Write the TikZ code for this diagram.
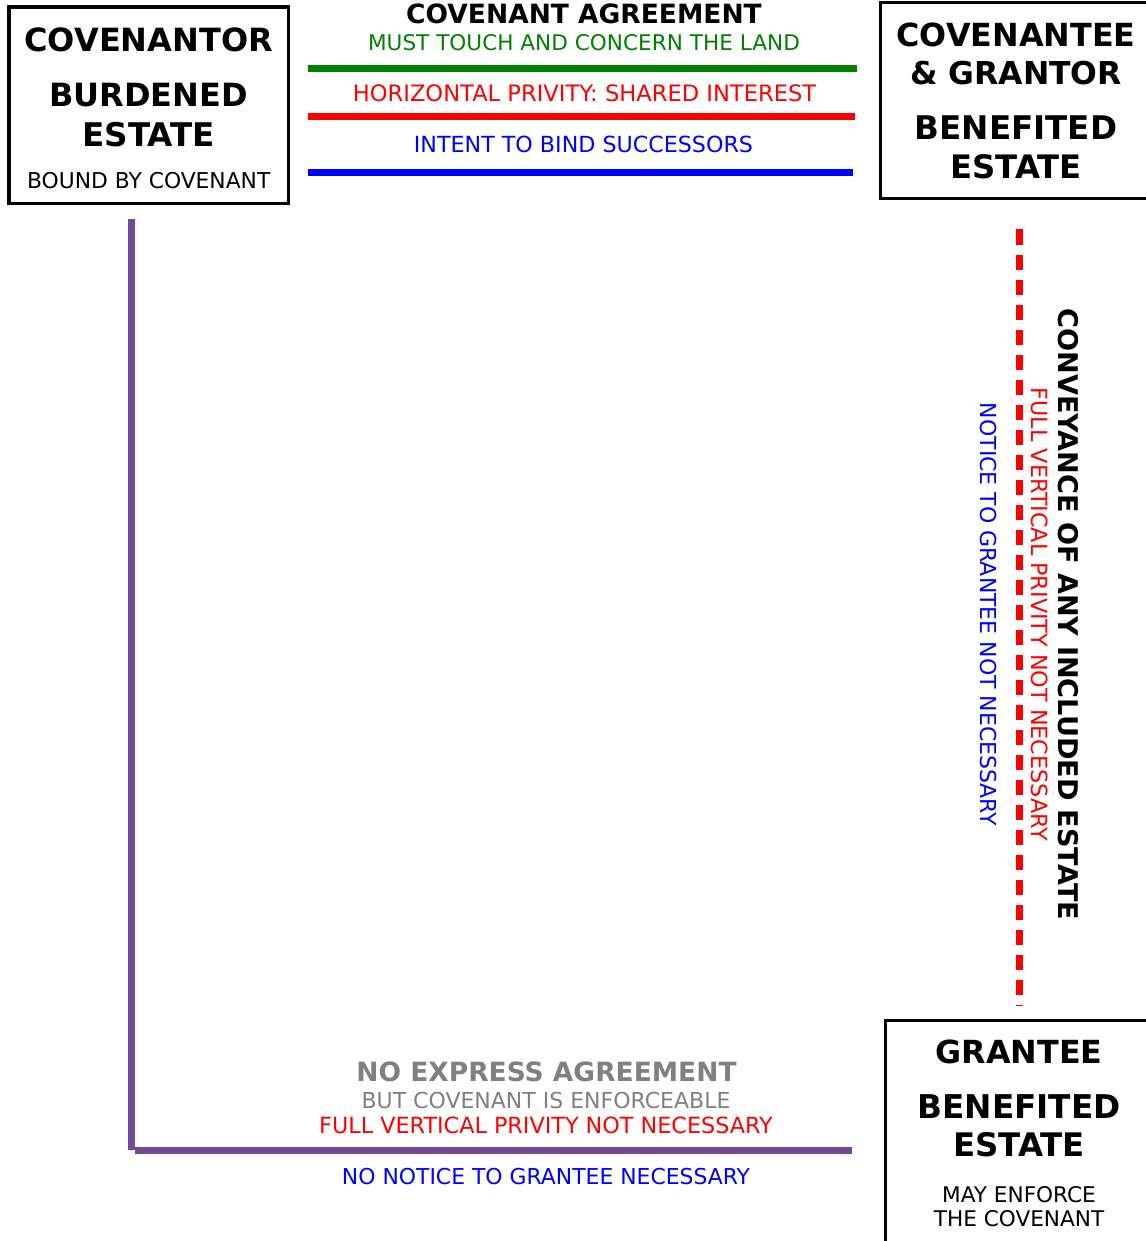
\documentclass[tikz,border=0pt]{standalone}
\usepackage{fontspec}
\setmainfont{DejaVu Sans}
\definecolor{landgreen}{RGB}{0,128,0}
\definecolor{estatepurple}{RGB}{113,74,154}
\definecolor{notegray}{RGB}{128,128,128}
\begin{document}
\begin{tikzpicture}[
    x=1pt, y=-1pt, % pixel grid, y grows downwards
    estatebox/.style={rectangle, draw=black, line width=3.3pt, inner sep=0pt},
    bigtext/.style={font=\fontsize{#1}{36}\selectfont\bfseries, inner sep=0pt, anchor=base},
    bigtext/.default=31.5,
    headtext/.style={font=\fontsize{#1}{30}\selectfont\bfseries, inner sep=0pt, anchor=base},
    headtext/.default=26.5,
    smalltext/.style={font=\fontsize{#1}{25}\selectfont, inner sep=0pt, anchor=base},
    smalltext/.default=21.6,
    rule/.style={line width=7pt},
  ]
    \useasboundingbox (0,0) rectangle (1145,1241);

    % Covenantor, top left
    \node[estatebox, minimum width=279.3pt, minimum height=196.5pt] (burden) at (148.7,105.25) {};
    \node[bigtext=32] (burdenName) at (148.7,52) {COVENANTOR};
    \node[bigtext=32] (burdenEstate) at (148.7,107) {BURDENED};
    \node[bigtext=32.6] (burdenEstateB) at (148.7,146.5) {ESTATE};
    \node[smalltext=21.8] (burdenNote) at (148.7,189) {BOUND BY COVENANT};

    % Covenantee, top right
    \node[estatebox, minimum width=271pt, minimum height=195.8pt] (benefit) at (1016,100.6) {};
    \node[bigtext=31.8] (benefitName) at (1016,47) {COVENANTEE};
    \node[bigtext] (benefitNameB) at (1016,85) {\& GRANTOR};
    \node[bigtext=32.6] (benefitEstate) at (1016,140) {BENEFITED};
    \node[bigtext=32.3] (benefitEstateB) at (1016,178.5) {ESTATE};

    % Grantee, bottom right
    \node[estatebox, minimum width=267pt, minimum height=241.5pt] (grantee) at (1019,1141.25) {};
    \node[bigtext=31.8] (granteeName) at (1019,1063.5) {GRANTEE};
    \node[bigtext=32.7] (granteeEstate) at (1019,1118.5) {BENEFITED};
    \node[bigtext=32.4] (granteeEstateB) at (1019,1156) {ESTATE};
    \node[smalltext] (granteeNote) at (1019,1202.5) {MAY ENFORCE};
    \node[smalltext] (granteeNoteB) at (1019,1226.5) {THE COVENANT};

    % Covenant agreement, between the two top boxes
    \node[headtext] (agree) at (584,24) {COVENANT AGREEMENT};
    \node[smalltext, text=landgreen] (touch) at (584,51) {MUST TOUCH AND CONCERN THE LAND};
    \node[smalltext=22.6, text=red] (horiz) at (584.5,102) {HORIZONTAL PRIVITY: SHARED INTEREST};
    \node[smalltext=22.2, text=blue] (intent) at (583.5,153) {INTENT TO BIND SUCCESSORS};
    \coordinate (touchL) at (307.7,68.5);
    \coordinate (touchR) at (857,68.5);
    \coordinate (horizL) at (307.7,117);
    \coordinate (horizR) at (855,117);
    \coordinate (intentL) at (307.7,172.5);
    \coordinate (intentR) at (853,172.5);
    \draw[rule, landgreen] (touchL) -- (touchR);
    \draw[rule, red] (horizL) -- (horizR);
    \draw[rule, blue] (intentL) -- (intentR);

    % Conveyance, down the right side
    \coordinate (convTop) at (1019.7,229.5);
    \coordinate (convBot) at (1019.7,1006);
    \draw[rule, red, dash pattern=on 15.7pt off 9.3pt] (convTop) -- (convBot);
    \node[headtext=27.1, rotate=-90] (convey) at (1058,614.5) {CONVEYANCE OF ANY INCLUDED ESTATE};
    \node[smalltext=22.3, rotate=-90, text=red] (convPriv) at (1031,614.5) {FULL VERTICAL PRIVITY NOT NECESSARY};
    \node[smalltext=22, rotate=-90, text=blue] (convNotice) at (980.7,614.5) {NOTICE TO GRANTEE NOT NECESSARY};

    % Implied covenant, purple corner from covenantor to grantee
    \coordinate (impTop) at (131.7,219.3);
    \coordinate (impCorner) at (131.7,1150);
    \coordinate (impStart) at (135,1150.5);
    \coordinate (impEnd) at (852,1150.5);
    \draw[line width=6.7pt, estatepurple] (impTop) -- (impCorner);
    \draw[line width=7.6pt, estatepurple] (impStart) -- (impEnd);
    \node[headtext, text=notegray] (express) at (546.5,1081.7) {NO EXPRESS AGREEMENT};
    \node[smalltext=22, text=notegray] (enforce) at (546,1108) {BUT COVENANT IS ENFORCEABLE};
    \node[smalltext=22.3, text=red] (impPriv) at (546,1133) {FULL VERTICAL PRIVITY NOT NECESSARY};
    \node[smalltext=21.9, text=blue] (impNotice) at (546,1184) {NO NOTICE TO GRANTEE NECESSARY};
  \end{tikzpicture}
\end{document}
